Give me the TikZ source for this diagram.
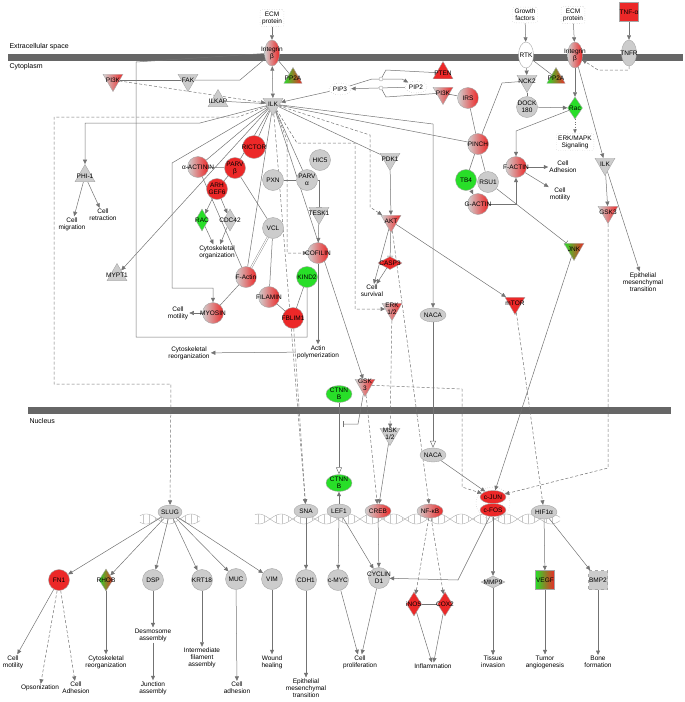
\documentclass[tikz,border=0pt]{standalone}
\usepackage{fontspec}
\setmainfont{Liberation Sans}
\usetikzlibrary{shapes.geometric,arrows.meta}
\pgfdeclarelayer{bg}
\pgfsetlayers{bg,main}
\definecolor{ipared}{RGB}{236,40,40}
\definecolor{ipagreen}{RGB}{40,222,40}
\newcommand\ipafont{\fontsize{6.5}{7}\selectfont}

\begin{document}
\begin{tikzpicture}[x=1pt,y=-1pt,
  base/.style={draw=black!35,line width=0.4pt,inner sep=0pt},
  cir/.style={base,circle,minimum size=21pt},
  ell/.style={base,ellipse,minimum width=24pt,minimum height=14pt},
  vell/.style={base,ellipse,minimum width=15pt,minimum height=26pt},
  tdn/.style={base,regular polygon,regular polygon sides=3,shape border rotate=180,minimum size=23pt},
  tup/.style={base,regular polygon,regular polygon sides=3,minimum size=23pt},
  dia/.style={base,diamond,minimum width=13pt,minimum height=22pt},
  sq/.style={base,rectangle,minimum size=19pt},
  gy/.style={fill=black!20},
  rd/.style={fill=ipared},
  gr/.style={fill=ipagreen},
  gyrd/.style={left color=black!18,right color=ipared},
  grrd/.style={left color=ipagreen,right color=ipared},
  lbl/.style={font=\ipafont,align=center,inner sep=0pt,text=black},
  gl/.style={label={[lbl]center:#1}},
  fn/.style={font=\ipafont,align=center,inner sep=1pt},
  dotbox/.style={draw=black!30,dotted,rounded corners=2pt,inner sep=2pt},
  ln/.style={draw=black!55,line width=0.5pt},
  ar/.style={ln,-{Triangle[length=4.5pt,width=4pt]}},
  dar/.style={ar,dash pattern=on 3pt off 2pt},
  inh/.style={ln,-{Bar[width=6pt]}},
  oar/.style={ln,-{Triangle[open,length=7pt,width=6pt]}},
  dbl/.style={draw=black!50,line width=0.4pt,double=white,double distance=1.1pt},
  helix/.style={draw=black!35,line width=0.35pt}]
\useasboundingbox (0,0) rectangle (685,702);

% compartments
\node[font=\fontsize{7}{8}\selectfont,anchor=west] (extra) at (6,47) {Extracellular space};
\node[font=\fontsize{7}{8}\selectfont,anchor=west] (cyto) at (6,67) {Cytoplasm};
\node[font=\fontsize{7}{8}\selectfont,anchor=west] (nucl) at (26,421) {Nucleus};

% membrane, left
\node[fn,dotbox] (ecmA) at (272,18) {ECM\\protein};
\node[vell,gyrd,gl={Integrin\\β}] (itgA) at (272,53) {};
\node[tup,minimum size=21pt,grrd,gl=PP2A] (pp2aA) at (293,78) {};
\node[tdn,gyrd,gl=PI3K] (pikA) at (113,80) {};
\node[tdn,gy,gl=FAK] (fak) at (188,80) {};
\node[tup,gy,gl=ILKAP] (ilkap) at (218,101) {};
\node[tdn,gy,gl=ILK] (ilk) at (273,104) {};
\node[base,ellipse,dotted,minimum width=22pt,minimum height=12pt,fill=white,gl=PIP3] (pip3) at (340,89) {};
\node[base,ellipse,dotted,minimum width=22pt,minimum height=12pt,fill=white,gl=PIP2] (pip2) at (416,87) {};
\node[base,circle,minimum size=4pt,fill=white] (k1) at (381,79) {};
\node[base,circle,minimum size=4pt,fill=white] (k2) at (381,88) {};
\node[tup,rd,gl=PTEN] (pten) at (443,73) {};
\node[tdn,gyrd,gl=PI3K] (pikB) at (443,93) {};

% membrane, right
\node[fn,dotbox] (gf) at (525,15) {Growth\\factors};
\node[fn,dotbox] (ecmB) at (573,15) {ECM\\protein};
\node[sq,rd,gl=TNF-α] (tnfa) at (629,12) {};
\node[vell,fill=white,gl=RTK] (rtk) at (526,55) {};
\node[vell,gyrd,gl={Integrin\\β}] (itgB) at (575,55) {};
\node[vell,gy,gl=TNFR] (tnfr) at (629,53) {};
\node[tdn,gy,gl=NCK2] (nck2) at (527,81) {};
\node[tup,minimum size=21pt,grrd,gl=PP2A] (pp2aB) at (556,78) {};
\node[cir,gy,gl={DOCK\\180}] (dock) at (527,107) {};
\node[dia,gr,minimum width=15pt,gl=Rac] (racB) at (575,108) {};
\node[fn,dotbox] (erkmapk) at (575,142) {ERK/MAPK\\Signaling};
\node[cir,gyrd,gl=IRS] (irs) at (468,98) {};
\node[cir,gyrd,gl=PINCH] (pinch) at (478,144) {};
\node[cir,gyrd,gl=F-ACTIN] (factB) at (516,167) {};
\node[fn] (adhB) at (563,167) {Cell\\Adhesion};
\node[fn] (motB) at (560,194) {Cell\\motility};
\node[tdn,gy,gl=ILK] (ilkB) at (605,164) {};
\node[tdn,gyrd,gl=GSK3] (gsk3B) at (608,212) {};
\node[fn] (emtB) at (643,282) {Epithelial\\mesenchymal\\transition};
\node[cir,gr,gl=TB4] (tb4) at (466,180) {};
\node[cir,gy,gl=RSU1] (rsu1) at (488,182) {};
\node[cir,gyrd,gl=G-ACTIN] (gact) at (478,204) {};
\node[tdn,grrd,gl=JNK] (jnk) at (574,249) {};
\node[tdn,rd,gl=mTOR] (mtor) at (515,303) {};

% cytoplasm, left
\node[tup,gy,gl=PHI-1] (phi1) at (85,176) {};
\node[fn] (cmig) at (72,224) {Cell\\migration};
\node[fn] (cret) at (103,215) {Cell\\retraction};
\node[cir,gyrd,gl=α-ACTININ] (actn) at (198,167) {};
\node[cir,rd,minimum size=23pt,gl=RICTOR] (rictor) at (254,147) {};
\node[cir,rd,gl={PARV\\β}] (parvb) at (235,168) {};
\node[cir,rd,gl={ARH\\GEF6}] (arhgef) at (217,189) {};
\node[dia,gr,gl=RAC] (racA) at (202,220) {};
\node[dia,gy,gl=CDC42] (cdc42) at (230,220) {};
\node[fn] (cytorg) at (217,252) {Cytoskeletal\\organization};
\node[tup,gy,gl=MYPT1] (mypt1) at (117,275) {};
\node[cir,gyrd,gl=MYOSIN] (myosin) at (213,313) {};
\node[fn] (cmotA) at (178,313) {Cell\\motility};
\node[fn] (cytreo) at (189,353) {Cytoskeletal\\reorganization};
\node[cir,gy,gl=HIC5] (hic5) at (320,160) {};
\node[cir,gy,gl=PXN] (pxn) at (273,180) {};
\node[cir,gy,gl={PARV\\α}] (parva) at (307,180) {};
\node[tdn,gy,gl=TESK1] (tesk1) at (319,213) {};
\node[cir,gy,gl=VCL] (vcl) at (273,228) {};
\node[tdn,gy,gl=PDK1] (pdk1) at (390,159) {};
\node[tdn,gyrd,gl=AKT] (akt) at (391,221) {};
\node[cir,gyrd,gl=F-Actin] (fact) at (246,277) {};
\node[cir,gyrd,gl=FILAMIN] (filamin) at (269,297) {};
\node[cir,rd,gl=FBLIM1] (fblim1) at (293,318) {};
\node[cir,gr,gl=KIND2] (kind2) at (307,277) {};
\node[cir,gyrd,gl=COFILIN] (cofilin) at (318,253) {};
\node[fn] (actpol) at (318,352) {Actin\\polymerization};
\node[dia,rd,minimum width=24pt,minimum height=13pt,gl=CASP3] (casp3) at (390,263) {};
\node[fn] (csurv) at (372,291) {Cell\\survival};
\node[tdn,gyrd,gl={ERK\\1/2}] (erk) at (392,309) {};
\node[ell,gy,minimum width=26pt,gl=NACA] (nacaA) at (433,315) {};
\node[tdn,gyrd,gl={GSK\\3}] (gsk3A) at (365,385) {};
\node[ell,gr,minimum width=26pt,minimum height=17pt,gl={CTNN\\B}] (ctnnbA) at (339,394) {};
\node[tdn,gy,gl={MSK\\1/2}] (msk) at (390,434) {};
\node[ell,gy,minimum width=26pt,gl=NACA] (nacaB) at (433,455) {};
\coordinate (ctin) at (343,424);

% nucleus
\node[ell,gy,gl=SLUG] (slug) at (170,512) {};
\node[cir,rd,gl=FN1] (fn1) at (59,580) {};
\node[dia,grrd,minimum width=14pt,gl=RHOB] (rhob) at (106,580) {};
\node[cir,gy,gl=DSP] (dsp) at (153,580) {};
\node[cir,gy,gl=KRT18] (krt18) at (202,580) {};
\node[cir,gy,gl=MUC] (muc) at (236,579) {};
\node[cir,gy,gl=VIM] (vim) at (272,579) {};
\node[fn] (cmotC) at (13,662) {Cell\\motility};
\node[fn] (opson) at (40,688) {Opsonization};
\node[fn] (adhC) at (76,688) {Cell\\Adhesion};
\node[fn] (cytreoB) at (106,662) {Cytoskeletal\\reorganization};
\node[fn] (desmo) at (153,635) {Desmosome\\assembly};
\node[fn] (junc) at (153,688) {Junction\\assembly};
\node[fn] (ifa) at (202,658) {Intermediate\\filament\\assembly};
\node[fn] (adhD) at (237,688) {Cell\\adhesion};
\node[fn] (wound) at (272,662) {Wound\\healing};
\node[ell,gr,minimum width=26pt,minimum height=17pt,gl={CTNN\\B}] (ctnnbB) at (339,483) {};
\node[ell,gy,gl=SNA] (sna) at (306,511) {};
\node[ell,gy,gl=LEF1] (lef1) at (339,511) {};
\node[ell,gyrd,minimum width=26pt,gl=CREB] (creb) at (378,511) {};
\node[ell,gyrd,minimum width=26pt,gl=NF-κB] (nfkb) at (430,511) {};
\node[cir,gy,gl=CDH1] (cdh1) at (306,580) {};
\node[cir,gy,gl=c-MYC] (cmyc) at (338,580) {};
\node[cir,gy,gl={CYCLIN\\D1}] (ccnd1) at (379,578) {};
\node[dia,rd,minimum width=15pt,minimum height=24pt,gl=iNOS] (inos) at (414,604) {};
\node[dia,rd,minimum width=15pt,minimum height=24pt,gl=COX2] (cox2) at (445,604) {};
\node[fn] (cprol) at (360,662) {Cell\\proliferation};
\node[fn] (inflam) at (433,666) {Inflammation};
\node[fn] (emtC) at (306,688) {Epithelial\\mesenchymal\\transition};
\node[base,ellipse,dotted,minimum width=34pt,minimum height=32pt] (jfcx) at (493,503) {};
\node[ell,rd,minimum width=26pt,minimum height=13pt,gl=c-JUN] (cjun) at (493,497) {};
\node[ell,rd,minimum width=26pt,minimum height=13pt,gl=c-FOS] (cfos) at (493,510) {};
\node[ell,gy,minimum width=26pt,gl=HIF1α] (hif1a) at (544,512) {};
\node[dia,gy,minimum width=24pt,minimum height=12pt,gl=MMP9] (mmp9) at (493,582) {};
\node[sq,grrd,gl=VEGF] (vegf) at (545,580) {};
\node[sq,gy,dashed,gl=BMP2] (bmp2) at (598,580) {};
\node[fn] (tinv) at (493,662) {Tissue\\invasion};
\node[fn] (tang) at (545,662) {Tumor\\angiogenesis};
\node[fn] (bone) at (598,662) {Bone\\formation};

\begin{pgfonlayer}{bg}
\fill[black!60] (8,53.5) rectangle (683,60.5);
\fill[black!60] (28,406.5) rectangle (671,413.5);
% dna
\foreach \a/\b in {140/200,255/560}{
  \draw[helix] plot[domain=\a:\b,samples=160] (\x,{519+5*sin(8*\x)});
  \draw[helix] plot[domain=\a:\b,samples=160] (\x,{519-5*sin(8*\x)});
}
\foreach \k in {143,149,...,197,258,264,...,557}
  \draw[helix,black!22] (\k,{519+5*sin(8*\k)}) -- (\k,{519-5*sin(8*\k)});

% top left
\draw[ar] (ecmA) -- (itgA);
\draw[ln,{Triangle[length=4.5pt,width=4pt]}-{Triangle[length=4.5pt,width=4pt]}] (itgA) -- (ilk);
\draw[ln] (pp2aA) -- (itgA);
\draw[ln] (pikA) -- (fak);
\draw[ln] (fak) -- (240,80) -- (itgA);
\draw[dar] (pikA) -- (ilk);
\draw[ln] (ilkap) -- (ilk);
\draw[ar] (pip3) -- (ilk);
\draw[ar] (pip3) -- (372,79) -- (402,79) -- (pip2);
\draw[ar] (pip2) -- (pip3);
\draw[ln] (pten) -- (386,70) -- (k1);
\draw[ln] (pikB) -- (386,97) -- (k2);
\draw[ar] (ilk) -- (200,123) -| (phi1);
\draw[ar] (phi1) -- (cmig);
\draw[ar] (phi1) -- (cret);
\draw[dar] (ilk) -- (238,117) -- (54,117) -- (54,384) -- (171,384) -- (slug);
\draw[ar] (ilk) -- (mypt1);
\draw[ar] (ilk) -- (172,163) -- (172,288) -| (myosin);
\draw[ln] (itgA) -- (136,62) -- (136,337) -- (307,337) -- (kind2);
\draw[ln] (ilk) -- (actn);
\draw[ln] (ilk) -- (rictor);
\draw[ln] (ilk) -- (parvb);
\draw[dbl] (ilk) -- (pxn);
\draw[ln] (ilk) -- (parva);
\draw[ln] (ilk) -- (fact);
\draw[ln] (ilk) -- (pdk1);
\draw[ar] (ilk) -- (gsk3A);
\draw[dar] (ilk) -- (370,135) -- (370,207) -- (akt);
\draw[dar] (ilk) -- (297,143) -- (355,143) -- (355,309) -- (erk);
\draw[dar] (ilk) -- (287,140) -- (287,253) -- (cofilin);
\draw[dar] (ilk) -- (sna);
\draw[dar] (fblim1) -- (sna);
\draw[ln] (ilk) -- (pinch);
\draw[ar] (ilk) -- (433,124) -- (nacaA);
\draw[ln] (actn) -- (parvb);
\draw[ln] (parvb) -- (arhgef);
\draw[ar] (arhgef) -- (racA);
\draw[ar] (arhgef) -- (cdc42);
\draw[ar] (racA) -- (cytorg);
\draw[ar] (cdc42) -- (cytorg);
\draw[ln] (actn) -- (fact);
\draw[ln] (parvb) -- (vcl);
\draw[ln] (pxn) -- (parva);
\draw[dbl] (pxn) -- (vcl);
\draw[dbl] (vcl) -- (fact);
\draw[ln] (vcl) -- (filamin);
\draw[ln] (fact) -- (myosin);
\draw[ar] (myosin) -- (cmotA);
\draw[ln] (filamin) -- (fblim1);
\draw[ln] (fblim1) -- (kind2);
\draw[inh] (parva.east) -| (tesk1);
\draw[ar] (tesk1) -- (cofilin);
\draw[ar] (cofilin) -- (actpol);
\draw[ar] (actpol) -- (cytreo);
\draw[ar] (pdk1) -- (akt);
\draw[inh] (akt) -- (casp3);
\draw[ar] (akt) -- (csurv);
\draw[ar] (casp3) -- (csurv);
\draw[ar] (akt) -- (mtor);
\draw[dar] (akt) -- (nfkb);
\draw[dar] (mtor) -- (hif1a);
\draw[dar] (erk) -- (msk);
\draw[ar] (msk) -- (creb);
\draw[dar] (gsk3A) -- (creb);
\draw[inh] (gsk3A) -- (358,424) -- (ctin);
\draw[dar] (gsk3A) -- (462,389) -- (462,487) -- (cjun);
\draw[oar] (ctnnbA) -- (ctnnbB);
\draw[oar] (nacaA) -- (nacaB);
\draw[ar] (nacaB) -- (cjun);
\draw[ar] (lef1) -- (ctnnbB);

% top right
\draw[ar] (gf) -- (rtk);
\draw[ar] (rtk) -- (nck2);
\draw[ln] (rtk) -- (pp2aB);
\draw[ln] (nck2) -- (dock);
\draw[ar] (dock) -- (racB);
\draw[ar] (ecmB) -- (itgB);
\draw[ar] (itgB) -- (racB);
\draw[ar] (tnfa) -- (tnfr);
\draw[dar] (tnfr) |- (598,70) -- (itgB);
\draw[ln,dotted,-{Triangle[length=4pt,width=3.5pt]}] (racB) -- (erkmapk);
\draw[ar] (racB) -- (516,131) -- (factB);
\draw[ar] (factB) -- (adhB);
\draw[ar] (factB) -- (motB);
\draw[ar] (gact) -| (factB);
\draw[ar] (tb4) -- (gact);
\draw[ln] (pinch) -- (tb4);
\draw[ln] (pinch) -- (rsu1);
\draw[ln] (pinch) -- (irs);
\draw[ln] (pinch) -- (502,83) -- (nck2);
\draw[ln] (pikB) -- (irs);
\draw[inh] (rsu1) -- (jnk);
\draw[ar] (jnk) -- (cjun);
\draw[ar] (itgB) -- (ilkB);
\draw[ar] (ilkB) -- (gsk3B);
\draw[ar] (ilkB) -- (emtB);
\draw[dar] (gsk3B) -- (608,468) -- (cjun);

% nucleus
\foreach \t in {fn1,rhob,dsp,krt18,muc,vim}
  \draw[ar] (slug) -- (\t);
\draw[ar] (fn1) -- (cmotC);
\draw[dar] (fn1) -- (opson);
\draw[dar] (fn1) -- (adhC);
\draw[ar] (rhob) -- (cytreoB);
\draw[ar] (dsp) -- (desmo);
\draw[ar] (desmo) -- (junc);
\draw[ar] (krt18) -- (ifa);
\draw[ar] (muc) -- (adhD);
\draw[ar] (vim) -- (wound);
\draw[ar] (sna) -- (cdh1);
\draw[ar] (cdh1) -- (emtC);
\draw[ar] (lef1) -- (cmyc);
\draw[ar] (lef1) -- (ccnd1);
\draw[ar] (creb) -- (ccnd1);
\draw[ar] (cmyc) -- (cprol);
\draw[ar] (ccnd1) -- (cprol);
\draw[dar] (nfkb) -- (inos);
\draw[dar] (nfkb) -- (cox2);
\draw[ln] (inos) -- (cox2);
\draw[ar] (inos) -- (inflam);
\draw[ar] (cox2) -- (inflam);
\draw[ar] (cfos) -- (458,580) -- (ccnd1);
\draw[ar] (cfos) -- (mmp9);
\draw[ar] (mmp9) -- (tinv);
\draw[ar] (hif1a) -- (vegf);
\draw[ar] (hif1a) -- (bmp2);
\draw[ar] (vegf) -- (tang);
\draw[ar] (bmp2) -- (bone);
\end{pgfonlayer}
\end{tikzpicture}
\end{document}
